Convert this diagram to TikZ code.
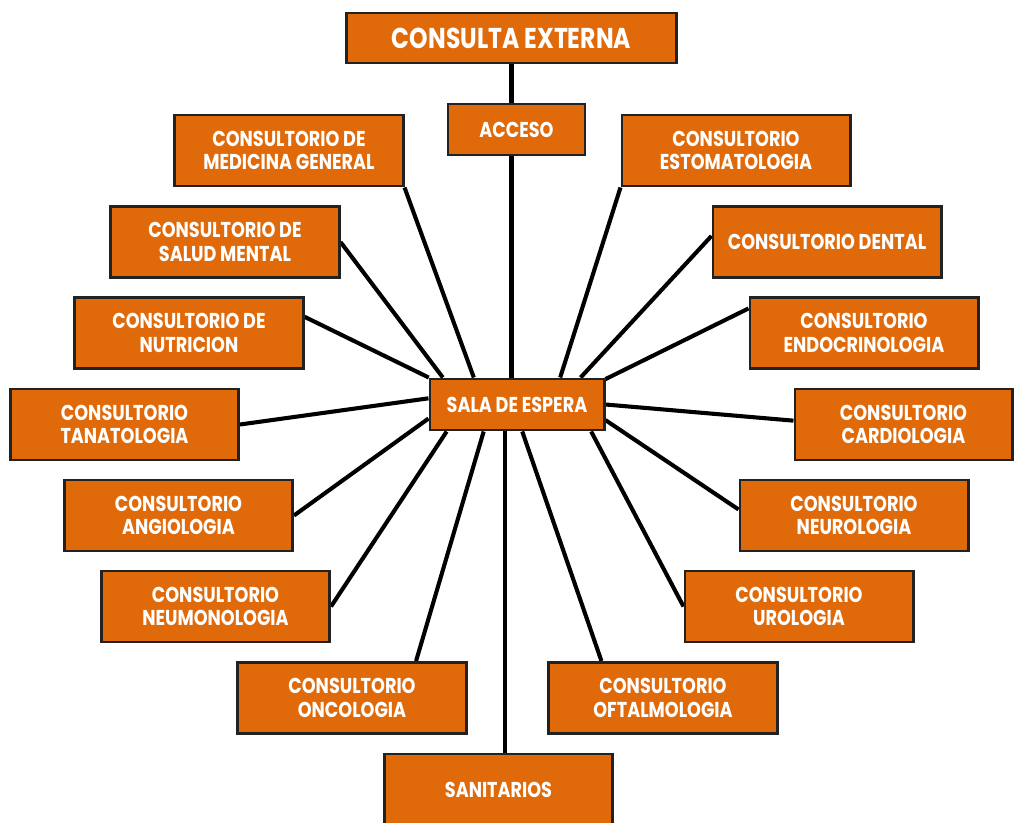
\documentclass[tikz,border=0pt]{standalone}
\usepackage{fontspec}
\setmainfont{Poppins}[FakeStretch=0.82]
\usetikzlibrary{backgrounds,shadows}
\definecolor{naranja}{HTML}{E06A0A}
\definecolor{borde}{HTML}{222222}

\begin{document}
\begin{tikzpicture}[
  x=0.025cm, y=-0.025cm,
  every node/.style={rectangle, draw=borde, line width=2.1pt, fill=naranja,
    text=white, align=center, inner sep=0pt,
    font=\bfseries\fontsize{15.3}{16.5}\selectfont,
    drop shadow={opacity=0.25, shadow xshift=0.8pt, shadow yshift=-0.8pt}},
  consultorio/.style={minimum width=5.7cm, minimum height=1.775cm},
  chica/.style={minimum height=1.275cm},
  linea/.style={draw=black, line width=2.9pt}
]
\useasboundingbox (0,0) rectangle (1014,823);

% cabecera y sala central
\node[minimum width=8.225cm, minimum height=1.25cm,
  font=\bfseries\fontsize{20.4}{22}\selectfont] (ext) at (511.5,38) {CONSULTA EXTERNA};
\node[chica, minimum width=3.425cm] (acc) at (516.5,129.5) {ACCESO};
\node[chica, minimum width=4.35cm] (sala) at (517,404.5) {SALA DE ESPERA};

% consultorios lado izquierdo
\node[consultorio] (med) at (289,150.5) {CONSULTORIO DE\\MEDICINA GENERAL};
\node[consultorio] (salud) at (225,242) {CONSULTORIO DE\\SALUD MENTAL};
\node[consultorio] (nutr) at (189,333) {CONSULTORIO DE\\NUTRICION};
\node[consultorio] (tana) at (124.5,424.5) {CONSULTORIO\\TANATOLOGIA};
\node[consultorio] (angi) at (178.5,515.5) {CONSULTORIO\\ANGIOLOGIA};
\node[consultorio] (neum) at (215.5,606.5) {CONSULTORIO\\NEUMONOLOGIA};
\node[consultorio] (onco) at (352,698) {CONSULTORIO\\ONCOLOGIA};

% consultorios lado derecho
\node[consultorio] (est) at (736,150.5) {CONSULTORIO\\ESTOMATOLOGIA};
\node[consultorio] (dent) at (827,242) {CONSULTORIO DENTAL};
\node[consultorio] (endo) at (864,333) {CONSULTORIO\\ENDOCRINOLOGIA};
\node[consultorio, minimum width=5.425cm] (card) at (903.5,424.5) {CONSULTORIO\\CARDIOLOGIA};
\node[consultorio] (neur) at (854,515.5) {CONSULTORIO\\NEUROLOGIA};
\node[consultorio] (urol) at (799,606.5) {CONSULTORIO\\UROLOGIA};
\node[consultorio] (ofta) at (663,698) {CONSULTORIO\\OFTALMOLOGIA};

\node[consultorio] (sani) at (498.5,789.5) {SANITARIOS};

% conexiones
\begin{scope}[on background layer]
  \draw[linea] (ext.south) -- (ext.south |- acc.north);
  \draw[linea] (acc.south -| ext.south) -- (sala.north -| ext.south);
  \foreach \a/\b in {148.7/med.south east, 160/salud.east, 180-16.3/nutr.8,
      176.4/tana.east, 189.5/angi.east, -159.7/neum.east, -141.5/onco.30,
      32.5/est.south west, 23.7/dent.177, 16.3/endo.168, 0/card.178,
      -10/neur.177, -20.6/urol.west, -79/ofta.149}
    \draw[linea] (sala.\a) -- (\b);
  \draw[linea] (sala.-114) -- (sala.-114 |- sani.north);
\end{scope}
\end{tikzpicture}
\end{document}
